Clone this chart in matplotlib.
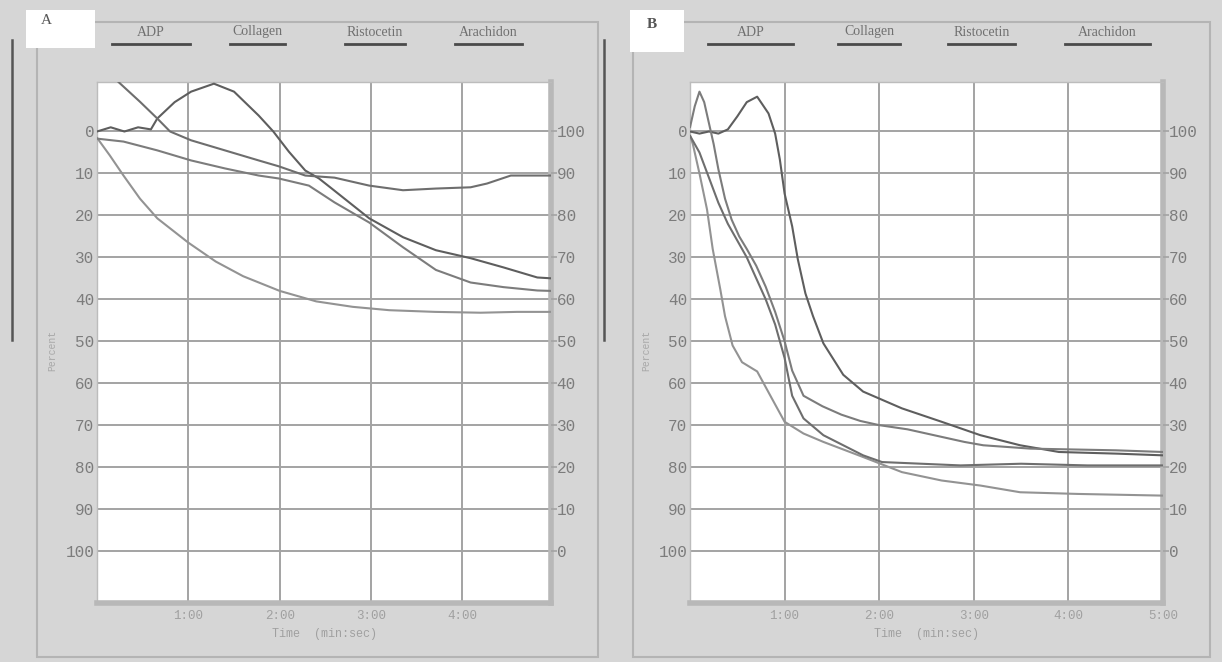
import matplotlib
matplotlib.use("Agg")
import matplotlib.pyplot as plt
from matplotlib.patches import Rectangle
from matplotlib.lines import Line2D

# ---------------- data ----------------
reagents = ["ADP", "Collagen", "Ristocetin", "Arachidon"]
left_ticks = [0, 10, 20, 30, 40, 50, 60, 70, 80, 90, 100]
right_labels = ["100", "90", "80", "70", "60", "50", "40", "30", "20", "10", "0"]
a_xticks = [1, 2, 3, 4]
a_xlabels = ["1:00", "2:00", "3:00", "4:00"]
b_xticks = [1, 2, 3, 4, 5]
b_xlabels = ["1:00", "2:00", "3:00", "4:00", "5:00"]

# Panel A (time in minutes, percent aggregation, 0 at top)
a_adp_t = [0.0, 0.03, 0.14, 0.29, 0.47, 0.66, 1.0, 1.3, 1.6, 2.0, 2.4, 2.8, 3.2, 3.7, 4.2, 4.6, 4.97]
a_adp_v = [1.5, 2.4, 5.7, 10.5, 16.0, 20.7, 26.5, 31.0, 34.5, 38.0, 40.5, 41.8, 42.6, 43.0, 43.2, 43.0, 43.0]
a_col_t = [0.0, 0.15, 0.3, 0.45, 0.59, 0.66, 0.85, 1.03, 1.28, 1.5, 1.77, 1.93, 2.1, 2.28, 2.43, 2.57,
           2.98, 3.35, 3.71, 4.09, 4.45, 4.82, 4.97]
a_col_v = [0.0, -1.0, 0.0, -1.0, -0.5, -3.1, -7.0, -9.5, -11.4, -9.5, -3.8, 0.0, 4.8, 9.3, 11.2, 13.6,
           20.7, 25.2, 28.3, 30.2, 32.4, 34.8, 35.0]
a_ris_t = [0.0, 0.29, 0.66, 1.03, 1.4, 1.77, 1.99, 2.32, 2.6, 2.98, 3.35, 3.71, 4.09, 4.45, 4.82, 4.97]
a_ris_v = [1.7, 2.4, 4.5, 6.9, 8.8, 10.5, 11.2, 12.9, 16.9, 21.7, 27.6, 33.0, 36.0, 37.1, 37.9, 38.0]
a_ara_t = [0.1, 0.23, 0.47, 0.66, 0.8, 1.03, 1.4, 1.77, 1.99, 2.28, 2.6, 2.98, 3.35, 3.71, 4.09, 4.27,
           4.53, 4.97]
a_ara_v = [-15.0, -11.9, -7.1, -3.1, 0.0, 2.1, 4.5, 6.9, 8.3, 10.5, 11.0, 12.9, 14.0, 13.6, 13.3, 12.4,
           10.5, 10.5]

# Panel B
b_adp_t = [0.0, 0.03, 0.1, 0.18, 0.24, 0.32, 0.37, 0.45, 0.55, 0.71, 0.85, 1.0, 1.2, 1.41, 1.83, 2.24,
           2.66, 3.07, 3.49, 4.1, 5.0]
b_adp_v = [1.0, 3.0, 10.0, 18.6, 28.0, 37.6, 44.0, 51.0, 55.0, 57.2, 63.0, 69.2, 72.0, 74.0, 77.6, 81.2,
           83.2, 84.4, 86.0, 86.4, 86.8]
b_col_t = [0.0, 0.1, 0.2, 0.3, 0.4, 0.5, 0.6, 0.71, 0.83, 0.9, 0.95, 1.0, 1.08, 1.14, 1.22, 1.3, 1.41,
           1.62, 1.83, 2.24, 2.66, 3.07, 3.49, 3.9, 4.52, 5.0]
b_col_v = [0.0, 0.5, 0.0, 0.5, -0.5, -3.6, -7.0, -8.3, -4.3, 0.5, 6.7, 14.8, 22.6, 30.5, 38.6, 44.0,
           50.5, 58.0, 62.0, 66.0, 69.2, 72.4, 74.8, 76.4, 76.8, 77.2]
b_ris_t = [0.0, 0.05, 0.1, 0.15, 0.2, 0.25, 0.3, 0.37, 0.44, 0.52, 0.6, 0.7, 0.8, 0.9, 1.0, 1.08, 1.2,
           1.4, 1.6, 1.8, 2.0, 2.3, 2.6, 2.9, 3.1, 3.6, 4.5, 5.0]
b_ris_v = [-1.0, -6.0, -9.5, -7.0, -2.0, 3.0, 9.0, 16.0, 21.0, 25.0, 28.0, 32.0, 37.0, 43.0, 50.0, 57.0,
           63.0, 65.5, 67.5, 69.0, 70.0, 71.0, 72.5, 74.0, 74.8, 75.6, 76.0, 76.4]
b_ara_t = [0.0, 0.1, 0.2, 0.3, 0.4, 0.5, 0.6, 0.7, 0.8, 0.9, 1.0, 1.08, 1.2, 1.41, 1.62, 1.83, 2.03,
           2.86, 3.5, 4.2, 5.0]
b_ara_v = [1.0, 5.0, 11.0, 17.0, 22.0, 26.0, 30.0, 35.0, 40.0, 46.0, 54.0, 63.0, 68.4, 72.4, 74.8, 77.2,
           78.8, 79.6, 79.2, 79.6, 79.6]

panels = {
    "A": {"xmax": 4.97, "xticks": a_xticks, "xlabels": a_xlabels,
          "series": [(a_adp_t, a_adp_v), (a_col_t, a_col_v), (a_ris_t, a_ris_v), (a_ara_t, a_ara_v)]},
    "B": {"xmax": 5.0, "xticks": b_xticks, "xlabels": b_xlabels,
          "series": [(b_adp_t, b_adp_v), (b_col_t, b_col_v), (b_ris_t, b_ris_v), (b_ara_t, b_ara_v)]},
}

# ---------------- styling ----------------
W, H = 1222, 662
BG = "#d6d6d6"
GRID = "#a3a3a3"
TICK = "#7c7c7c"
LINE_COLORS = ["#939393", "#5e5e5e", "#7c7c7c", "#6e6e6e"]
MONO = ["Liberation Mono", "DejaVu Sans Mono"]
SERIF = ["Liberation Serif", "DejaVu Serif"]

fig = plt.figure(figsize=(W / 100, H / 100), dpi=100)
fig.patch.set_facecolor(BG)


def fx(px):
    return px / W


def fy(py):
    return 1 - py / H


layout = {
    "A": {"ax": (97, 551), "frame": (37, 598), "box": (26, 95, 10, 48), "letter": (46, 20),
          "legend_x": [(112, 190), (230, 285), (345, 405), (455, 522)], "plabel": 52,
          "darkline": 12},
    "B": {"ax": (690, 1163), "frame": (633, 1210), "box": (630, 684, 10, 52), "letter": (652, 24),
          "legend_x": [(708, 793), (838, 900), (948, 1015), (1065, 1150)], "plabel": 646,
          "darkline": 604},
}

top_px, bot_px = 82, 603
ylo, yhi = 112.4, -11.8

for key in ["A", "B"]:
    P = panels[key]
    L = layout[key]
    f0, f1 = L["frame"]
    fig.patches.append(Rectangle((fx(f0), fy(657)), fx(f1 - f0), (657 - 22) / H,
                                 transform=fig.transFigure, fill=False,
                                 edgecolor="#b4b4b4", lw=1.5, zorder=0))
    dl = L["darkline"]
    fig.lines.append(Line2D([fx(dl), fx(dl)], [fy(40), fy(340)], transform=fig.transFigure,
                            color="#555555", lw=1.8))
    bx0, bx1, by0, by1 = L["box"]
    fig.patches.append(Rectangle((fx(bx0), fy(by1)), fx(bx1 - bx0), (by1 - by0) / H,
                                 transform=fig.transFigure, facecolor="white",
                                 edgecolor="none", zorder=1))
    fig.text(fx(L["letter"][0]), fy(L["letter"][1]), key, family=SERIF, fontsize=11,
             fontweight="bold" if key == "B" else "normal", color="#555555",
             ha="center", va="center")
    for (lx0, lx1), name in zip(L["legend_x"], reagents):
        fig.text(fx((lx0 + lx1) / 2), fy(32), name, family=SERIF, fontsize=10,
                 color="#707070", ha="center", va="center")
        fig.lines.append(Line2D([fx(lx0), fx(lx1)], [fy(44), fy(44)],
                                transform=fig.transFigure, color="#4a4a4a", lw=2.0))

    x0, x1 = L["ax"]
    ax = fig.add_axes([fx(x0), fy(bot_px), fx(x1 - x0), (bot_px - top_px) / H])
    ax.set_facecolor("white")
    ax.set_xlim(0, P["xmax"])
    ax.set_ylim(ylo, yhi)

    for (t, v), c in zip(P["series"], LINE_COLORS):
        ax.plot(t, v, color=c, lw=1.5, zorder=3, solid_capstyle="round")

    ax.set_yticks(left_ticks)
    ax.set_yticklabels([str(v) for v in left_ticks], family=MONO, fontsize=11.5, color=TICK)
    ax.set_xticks(P["xticks"])
    ax.set_xticklabels(P["xlabels"], family=MONO, fontsize=9, color="#a0a0a0")
    ax.tick_params(axis="y", length=0, pad=2)
    ax.tick_params(axis="x", length=0, pad=5)
    ax.grid(True, color=GRID, lw=1.4, zorder=1)
    ax.set_axisbelow(True)
    for side in ["left", "top"]:
        ax.spines[side].set_color("#bcbcbc")
        ax.spines[side].set_linewidth(1.0)
    for side in ["right", "bottom"]:
        ax.spines[side].set_color("#b8b8b8")
        ax.spines[side].set_linewidth(4.0)
    ax.set_xlabel("Time  (min:sec)", family=MONO, fontsize=8.5, color="#a0a0a0", labelpad=4)

    axr = ax.twinx()
    axr.set_ylim(ylo, yhi)
    axr.set_yticks(left_ticks)
    axr.set_yticklabels(right_labels, family=MONO, fontsize=11.5, color=TICK)
    axr.tick_params(axis="y", length=4, width=1.2, color=GRID, pad=0)
    for s in axr.spines.values():
        s.set_visible(False)

    fig.text(fx(L["plabel"]), fy(350), "Percent", family=MONO, fontsize=7, color="#a8a8a8",
             rotation=90, ha="center", va="center")

fig.savefig("out.png", dpi=100, facecolor=fig.get_facecolor())
